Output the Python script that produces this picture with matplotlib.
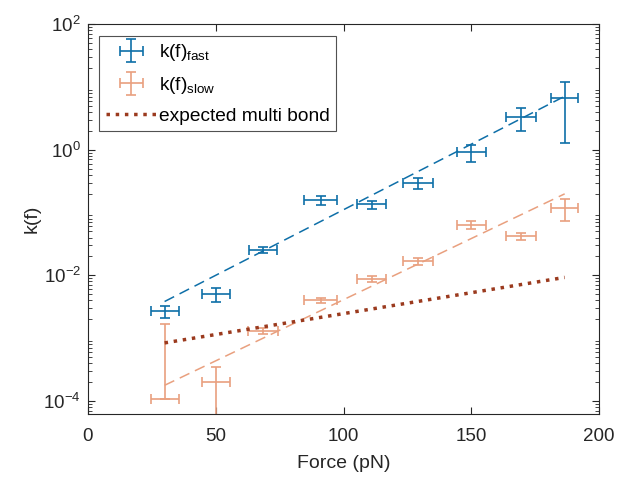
import numpy as np
import matplotlib
matplotlib.use('Agg')
import matplotlib.pyplot as plt
from matplotlib.legend_handler import HandlerErrorbar

plt.rcParams['font.family'] = ['Liberation Sans', 'DejaVu Sans']
plt.rcParams['mathtext.fontset'] = 'custom'
plt.rcParams['mathtext.rm'] = 'Liberation Sans'
plt.rcParams['mathtext.it'] = 'Liberation Sans'

# fast rate
force_fast = [30, 50, 68.5, 91, 111, 129, 150, 169.5, 186.5]
force_fast_err = [5.5, 5.5, 5.5, 6.3, 5.8, 5.8, 5.8, 5.9, 5.3]
k_fast = [2.7e-3, 5.0e-3, 0.0255, 0.16, 0.135, 0.30, 0.92, 3.3, 6.6]
k_fast_err = [0.6e-3, 1.2e-3, 0.003, 0.026, 0.02, 0.06, 0.28, 1.3, 5.3]

# slow rate
force_slow = [30, 50, 68.5, 91, 111, 129, 150, 169.5, 186.5]
force_slow_err = [5.5, 5.5, 5.8, 6.3, 5.8, 5.8, 5.8, 5.9, 5.3]
k_slow = [1.08e-4, 2.0e-4, 1.3e-3, 4.0e-3, 8.8e-3, 0.0167, 0.064, 0.042, 0.12]
k_slow_err = [1.6e-3, 1.47e-4, 1.5e-4, 0.4e-3, 1.0e-3, 0.002, 0.01, 0.006, 0.046]

# exponential fits  k = k0*exp(F/Fb)
fit_names = ['fast', 'slow', 'multi']
fit_k0 = [9.06e-4, 4.63e-5, 5.31e-4]
fit_Fb = [20.8, 22.3, 65.2]
fit_range = [30, 186.5]

blue = '#0E6FA8'
orange = '#E9A07F'
brown = '#9B3A1E'
dark = '#262626'

fig = plt.figure(figsize=(6.19, 4.82), dpi=100)
ax = fig.add_axes([0.142, 0.141, 0.826, 0.809])
ax.set_yscale('log')

ff = np.linspace(fit_range[0], fit_range[1], 200)
fits = [fit_k0[i] * np.exp(ff / fit_Fb[i]) for i in range(3)]

ax.plot(ff, fits[0], '--', color=blue, lw=1.1, dashes=(7, 4))
ax.plot(ff, fits[1], '--', color=orange, lw=1.1, dashes=(7, 4))

h1 = ax.errorbar(force_fast, k_fast, yerr=k_fast_err, xerr=force_fast_err,
                 fmt='none', ecolor=blue, elinewidth=1.2, capsize=3.5, capthick=1.2)

ks = np.array(k_slow)
ke = np.array(k_slow_err)
low = np.where(ke < ks, ke, 0)  # lower bar dropped when it would go negative
h2 = ax.errorbar(force_slow, k_slow, yerr=[low, ke], xerr=force_slow_err,
                 fmt='none', ecolor=orange, elinewidth=1.2, capsize=3.5, capthick=1.2)

h3, = ax.plot(ff, fits[2], ':', color=brown, lw=2.5)

ax.set_xlim(0, 200)
ax.set_ylim(6.2e-5, 1e2)
ax.set_xticks([0, 50, 100, 150, 200])
ax.set_yticks([1e-4, 1e-2, 1e0, 1e2])
ax.tick_params(which='both', direction='in', top=True, right=True,
               colors=dark, labelsize=13.5)
ax.tick_params(axis='x', pad=10)
ax.tick_params(axis='y', pad=5)
ax.tick_params(which='major', length=5)
ax.tick_params(which='minor', length=3)
for s in ax.spines.values():
    s.set_color(dark)
    s.set_linewidth(0.8)

ax.set_xlabel('Force (pN)', fontsize=14, color=dark, labelpad=7)
ax.set_ylabel('k(f)', fontsize=14, color=dark, labelpad=2)

leg = ax.legend([h1, h2, h3],
                [r'k(f)$_{\mathrm{fast}}$', r'k(f)$_{\mathrm{slow}}$', 'expected multi bond'],
                loc='upper left', fontsize=13.8, frameon=True, fancybox=False,
                edgecolor=dark, handlelength=2.6, handletextpad=0.15,
                borderpad=0.35, labelspacing=0.6, borderaxespad=0.6,
                handler_map={type(h1): HandlerErrorbar(xerr_size=0.6)})
leg.get_frame().set_linewidth(0.8)

fig.savefig('out.png', dpi=100)
